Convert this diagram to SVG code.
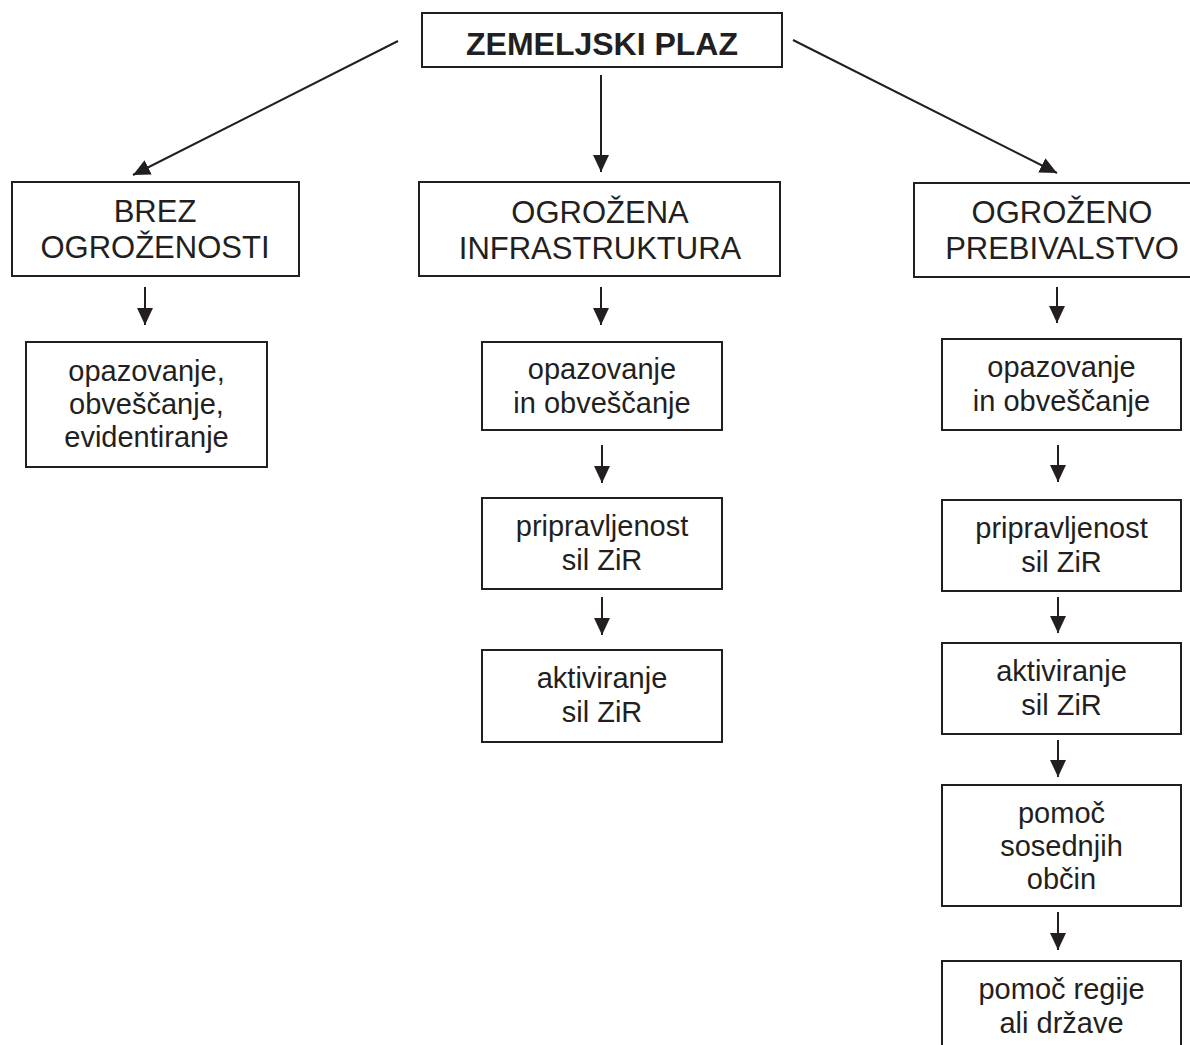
<svg xmlns="http://www.w3.org/2000/svg" width="1190" height="1045" viewBox="0 0 1190 1045">
<defs>
<style>
.box{fill:#fff;stroke:#231f20;stroke-width:2}
.hd{font-family:"Liberation Sans",Arial,sans-serif;font-size:31px;fill:#231f20;text-anchor:middle}
.tt{font-family:"Liberation Sans",Arial,sans-serif;font-size:32px;font-weight:bold;fill:#231f20;text-anchor:middle}
.sm{font-family:"Liberation Sans",Arial,sans-serif;font-size:29px;fill:#231f20;text-anchor:middle}
.ln{stroke:#231f20;stroke-width:2;fill:none;marker-end:url(#ah)}
</style>
<marker id="ah" viewBox="0 0 17 16" refX="17" refY="8" markerWidth="17" markerHeight="16" markerUnits="userSpaceOnUse" orient="auto"><path d="M0,0 L17,8 L0,16 z" fill="#231f20"/></marker>
</defs>
<rect width="1190" height="1045" fill="#fff"/>
<g id="connectors">
<line class="ln" x1="398" y1="41" x2="133" y2="175"/>
<line class="ln" x1="601" y1="75" x2="601" y2="172"/>
<line class="ln" x1="793" y1="40" x2="1057" y2="173"/>
<line class="ln" x1="145" y1="287" x2="145" y2="325"/>
<line class="ln" x1="601" y1="287" x2="601" y2="325"/>
<line class="ln" x1="1057" y1="287" x2="1057" y2="323"/>
<line class="ln" x1="602" y1="445" x2="602" y2="483"/>
<line class="ln" x1="602" y1="597" x2="602" y2="635"/>
<line class="ln" x1="1058" y1="445" x2="1058" y2="482"/>
<line class="ln" x1="1058" y1="597" x2="1058" y2="633"/>
<line class="ln" x1="1058" y1="740" x2="1058" y2="777"/>
<line class="ln" x1="1058" y1="912" x2="1058" y2="950"/>
</g>
<g id="n-top"><rect class="box" x="422" y="13" width="360" height="54"/><text class="tt" x="602" y="55">ZEMELJSKI PLAZ</text></g>
<g id="n-brez"><rect class="box" x="12" y="182" width="287" height="94"/><text class="hd" x="155" y="222">BREZ</text><text class="hd" x="155" y="258">OGROŽENOSTI</text></g>
<g id="n-infra"><rect class="box" x="419" y="182" width="361" height="94"/><text class="hd" x="600" y="223">OGROŽENA</text><text class="hd" x="600" y="259">INFRASTRUKTURA</text></g>
<g id="n-preb"><rect class="box" x="914" y="183" width="300" height="94"/><text class="hd" x="1062" y="223">OGROŽENO</text><text class="hd" x="1062" y="259">PREBIVALSTVO</text></g>
<g id="n-l1"><rect class="box" x="26" y="342" width="241" height="125"/><text class="sm" x="146.5" y="381">opazovanje,</text><text class="sm" x="146.5" y="414">obveščanje,</text><text class="sm" x="146.5" y="447">evidentiranje</text></g>
<g id="n-m1"><rect class="box" x="482" y="342" width="240" height="88"/><text class="sm" x="602" y="379">opazovanje</text><text class="sm" x="602" y="413">in obveščanje</text></g>
<g id="n-m2"><rect class="box" x="482" y="498" width="240" height="91"/><text class="sm" x="602" y="536">pripravljenost</text><text class="sm" x="602" y="570">sil ZiR</text></g>
<g id="n-m3"><rect class="box" x="482" y="650" width="240" height="92"/><text class="sm" x="602" y="688">aktiviranje</text><text class="sm" x="602" y="722">sil ZiR</text></g>
<g id="n-r1"><rect class="box" x="942" y="339" width="239" height="91"/><text class="sm" x="1061.5" y="377">opazovanje</text><text class="sm" x="1061.5" y="411">in obveščanje</text></g>
<g id="n-r2"><rect class="box" x="942" y="500" width="239" height="91"/><text class="sm" x="1061.5" y="538">pripravljenost</text><text class="sm" x="1061.5" y="572">sil ZiR</text></g>
<g id="n-r3"><rect class="box" x="942" y="643" width="239" height="91"/><text class="sm" x="1061.5" y="681">aktiviranje</text><text class="sm" x="1061.5" y="715">sil ZiR</text></g>
<g id="n-r4"><rect class="box" x="942" y="785" width="239" height="121"/><text class="sm" x="1061.5" y="823">pomoč</text><text class="sm" x="1061.5" y="856">sosednjih</text><text class="sm" x="1061.5" y="889">občin</text></g>
<g id="n-r5"><rect class="box" x="942" y="961" width="239" height="100"/><text class="sm" x="1061.5" y="999">pomoč regije</text><text class="sm" x="1061.5" y="1033">ali države</text></g>
</svg>
